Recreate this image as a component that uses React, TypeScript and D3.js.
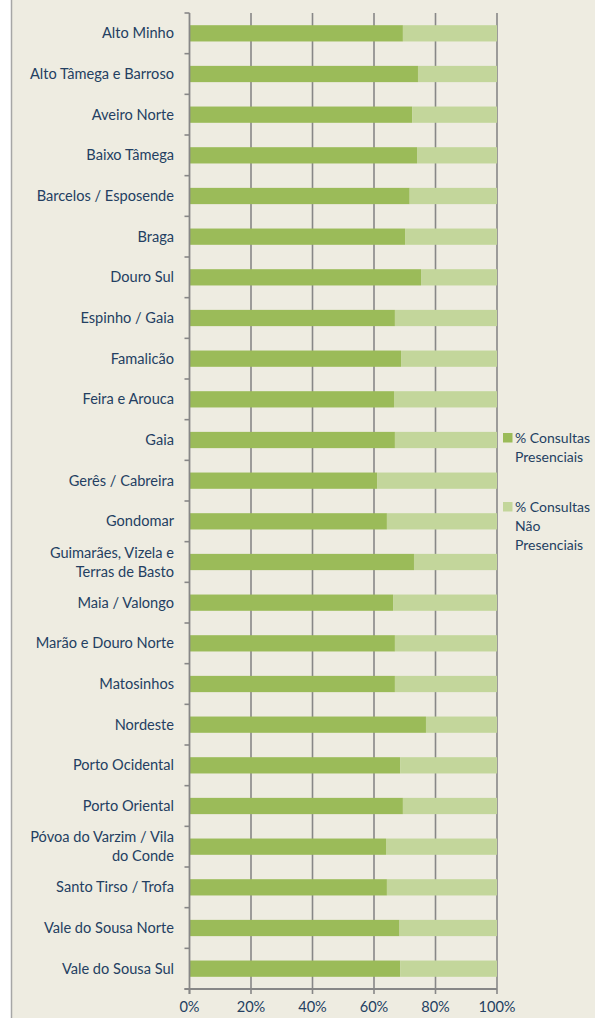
import React, { useEffect, useRef } from "react";
import * as d3 from "d3";

const categories = [
  "Alto Minho",
  "Alto Tâmega e Barroso",
  "Aveiro Norte",
  "Baixo Tâmega",
  "Barcelos / Esposende",
  "Braga",
  "Douro Sul",
  "Espinho / Gaia",
  "Famalicão",
  "Feira e Arouca",
  "Gaia",
  "Gerês / Cabreira",
  "Gondomar",
  "Guimarães, Vizela e\nTerras de Basto",
  "Maia / Valongo",
  "Marão e Douro Norte",
  "Matosinhos",
  "Nordeste",
  "Porto Ocidental",
  "Porto Oriental",
  "Póvoa do Varzim / Vila\ndo Conde",
  "Santo Tirso / Trofa",
  "Vale do Sousa Norte",
  "Vale do Sousa Sul",
];

const presenciais = [
  69.4, 74.3, 72.4, 74.0, 71.6, 70.1, 75.3, 66.8, 68.8, 66.5, 66.8, 61.0,
  64.2, 73.0, 66.2, 66.8, 66.8, 76.9, 68.5, 69.4, 63.9, 64.2, 68.3, 68.5,
];

const naoPresenciais = [
  30.6, 25.7, 27.6, 26.0, 28.4, 29.9, 24.7, 33.2, 31.2, 33.5, 33.2, 39.0,
  35.8, 27.0, 33.8, 33.2, 33.2, 23.1, 31.5, 30.6, 36.1, 35.8, 31.7, 31.5,
];

const seriesNames = ["% Consultas\nPresenciais", "% Consultas\nNão\nPresenciais"];
const seriesColors = ["#9BBB59", "#C3D69B"];
const xTicks = [0, 20, 40, 60, 80, 100];

const W = 595;
const H = 1018;
const FONT = "Lato, 'Open Sans', sans-serif";
const TEXT = "#243F62";
const GRID = "#878787";

export default function App() {
  const svgRef = useRef<SVGSVGElement>(null);

  useEffect(() => {
    const svg = d3.select(svgRef.current);
    svg.selectAll("*").remove();

    // frame / background
    svg.append("rect").attr("width", W).attr("height", H).attr("fill", "#ffffff");
    svg.append("rect").attr("x", 11).attr("width", W - 11).attr("height", H).attr("fill", "#EEECE1");
    svg.append("line")
      .attr("x1", 11.5).attr("x2", 11.5).attr("y1", 0).attr("y2", H)
      .attr("stroke", "#A6A6A6").attr("stroke-width", 1.5);

    const x = d3.scaleLinear().domain([0, 100]).range([189.5, 497]);
    const y = d3
      .scaleBand<string>()
      .domain(categories)
      .range([13, 989])
      .paddingInner(0.6)
      .paddingOuter(0.3);

    const [top, bottom] = y.range();

    // gridlines
    svg.append("g")
      .selectAll("line")
      .data(xTicks.slice(1))
      .join("line")
      .attr("x1", (d) => x(d))
      .attr("x2", (d) => x(d))
      .attr("y1", top)
      .attr("y2", bottom)
      .attr("stroke", GRID)
      .attr("stroke-width", 1.6);

    // stacked bars
    const rows = categories.map((c, i) => ({ c, a: presenciais[i], b: naoPresenciais[i] }));
    const bars = svg.append("g");
    bars.selectAll("rect.a")
      .data(rows)
      .join("rect")
      .attr("class", "a")
      .attr("x", x(0))
      .attr("y", (d) => y(d.c)!)
      .attr("width", (d) => x(d.a) - x(0))
      .attr("height", y.bandwidth())
      .attr("fill", seriesColors[0]);
    bars.selectAll("rect.b")
      .data(rows)
      .join("rect")
      .attr("class", "b")
      .attr("x", (d) => x(d.a))
      .attr("y", (d) => y(d.c)!)
      .attr("width", (d) => x(d.a + d.b) - x(d.a))
      .attr("height", y.bandwidth())
      .attr("fill", seriesColors[1]);

    // y axis with ticks between categories
    const yAxis = svg.append("g");
    yAxis.append("line")
      .attr("x1", x(0)).attr("x2", x(0))
      .attr("y1", top).attr("y2", bottom + 5)
      .attr("stroke", GRID).attr("stroke-width", 1.8);
    yAxis.selectAll("line.tick")
      .data(d3.range(categories.length + 1))
      .join("line")
      .attr("class", "tick")
      .attr("x1", x(0) - 5)
      .attr("x2", x(0))
      .attr("y1", (i) => top + i * y.step())
      .attr("y2", (i) => top + i * y.step())
      .attr("stroke", GRID)
      .attr("stroke-width", 1.6);

    const labels = yAxis.selectAll("text")
      .data(categories)
      .join("text")
      .attr("x", 174)
      .attr("text-anchor", "end")
      .attr("font-family", FONT)
      .attr("font-size", 14.6)
      .attr("fill", TEXT);
    labels.each(function (d) {
      const lines = d.split("\n");
      const cy = y(d)! + y.bandwidth() / 2;
      const lh = 19;
      const t = d3.select(this);
      lines.forEach((ln, k) => {
        t.append("tspan")
          .attr("x", 174)
          .attr("y", cy + (k - (lines.length - 1) / 2) * lh)
          .attr("dy", "0.35em")
          .text(ln);
      });
    });

    // x axis
    const xAxis = svg.append("g");
    xAxis.append("line")
      .attr("x1", x(0) - 5).attr("x2", x(100))
      .attr("y1", bottom).attr("y2", bottom)
      .attr("stroke", GRID).attr("stroke-width", 1.8);
    xAxis.selectAll("line.tick")
      .data(xTicks)
      .join("line")
      .attr("class", "tick")
      .attr("x1", (d) => x(d)).attr("x2", (d) => x(d))
      .attr("y1", bottom).attr("y2", bottom + 5)
      .attr("stroke", GRID).attr("stroke-width", 1.6);
    xAxis.selectAll("text")
      .data(xTicks)
      .join("text")
      .attr("x", (d) => x(d))
      .attr("y", 1012)
      .attr("text-anchor", "middle")
      .attr("font-family", FONT)
      .attr("font-size", 14.6)
      .attr("fill", TEXT)
      .text((d) => `${d}%`);

    // legend
    const legendTops = [433, 502];
    const legend = svg.append("g");
    seriesNames.forEach((name, i) => {
      const ty = legendTops[i];
      legend.append("rect")
        .attr("x", 503).attr("y", ty)
        .attr("width", 9.5).attr("height", 9.5)
        .attr("fill", seriesColors[i]);
      const t = legend.append("text")
        .attr("font-family", FONT)
        .attr("font-size", 14)
        .attr("fill", TEXT);
      name.split("\n").forEach((ln, k) => {
        t.append("tspan")
          .attr("x", 515)
          .attr("y", ty + 10 + k * 19)
          .text(ln);
      });
    });
  }, []);

  return (
    <div style={{ position: "absolute", left: 0, top: 0 }}>
      <svg ref={svgRef} width={W} height={H} style={{ display: "block" }}></svg>
    </div>
  );
}
